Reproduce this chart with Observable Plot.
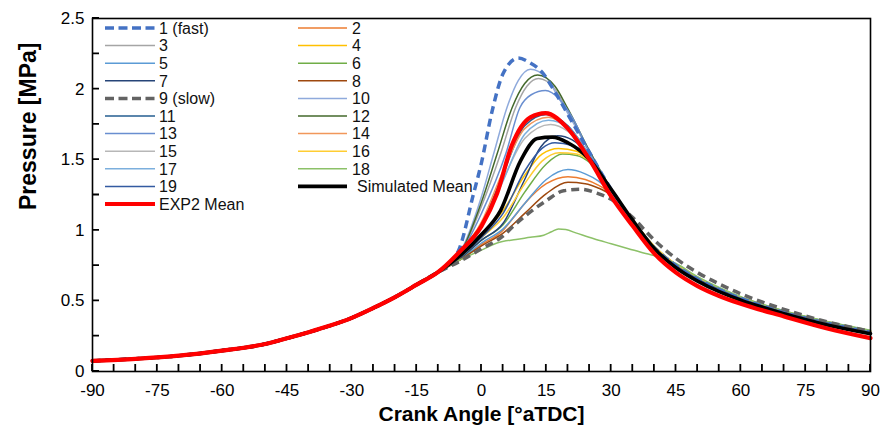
<!DOCTYPE html>
<html><head><meta charset="utf-8">
<script src="https://cdn.jsdelivr.net/npm/d3@7"></script>
<script src="https://cdn.jsdelivr.net/npm/@observablehq/plot@0.6"></script>
<style>
body{margin:0;background:#fff;}
#wrap{position:relative;width:884px;height:435px;font-family:"Liberation Sans",Arial,sans-serif;}
#wrap svg.legend{position:absolute;left:0;top:0;pointer-events:none;}
</style></head><body><div id="wrap"></div>
<script>
const compression = [[-90,0.075],[-80,0.09],[-70,0.112],[-60,0.148],[-50,0.195],[-45,0.235],[-40,0.278],[-35,0.325],[-30,0.38],[-25,0.45],[-20,0.527],[-15,0.615],[-10,0.705]];
const s1  = [[-7,0.77],[-5,0.88],[-2,1.24],[0,1.48],[2.5,1.85],[5,2.11],[8.5,2.22],[11,2.19],[14,2.12],[17,1.98],[20,1.82],[25,1.55],[30,1.29],[35,1.065],[40,0.875],[45,0.75],[50,0.655],[55,0.58],[60,0.518],[70,0.418],[80,0.342],[90,0.278]];
const s2  = [[-5,0.79],[0,0.90],[5,1.00],[7.4,1.09],[10,1.19],[15,1.33],[20,1.38],[24,1.36],[27,1.32],[30,1.26],[35,1.07],[40,0.885],[45,0.755],[50,0.662],[55,0.588],[60,0.525],[70,0.425],[80,0.348],[90,0.283]];
const s3  = [[-5,0.83],[0,1.17],[4.4,1.54],[7.9,1.87],[10.5,2.02],[13.2,2.075],[17,2.00],[20,1.84],[25,1.55],[30,1.285],[35,1.062],[40,0.872],[45,0.748],[50,0.652],[55,0.578],[60,0.515],[70,0.416],[80,0.34],[90,0.276]];
const s4  = [[-5,0.82],[0,0.97],[5,1.14],[10,1.39],[14,1.54],[17.8,1.58],[22,1.56],[25,1.50],[30,1.28],[35,1.07],[40,0.882],[45,0.755],[50,0.66],[55,0.585],[60,0.522],[70,0.422],[80,0.346],[90,0.282]];
const s5  = [[-5,0.79],[0,0.91],[5,1.01],[10,1.19],[15,1.36],[20,1.43],[24,1.40],[27,1.35],[30,1.27],[35,1.065],[40,0.876],[45,0.748],[50,0.654],[55,0.58],[60,0.517],[70,0.418],[80,0.342],[90,0.278]];
const s6  = [[-5,0.80],[0,0.93],[5,1.04],[10,1.27],[15,1.47],[18.7,1.54],[22,1.53],[25,1.48],[30,1.28],[35,1.072],[40,0.886],[45,0.758],[50,0.664],[55,0.59],[60,0.527],[70,0.428],[80,0.352],[90,0.288]];
const s7  = [[-5,0.80],[0,0.93],[5,1.05],[10,1.36],[13.7,1.59],[17.6,1.67],[21,1.64],[25,1.53],[30,1.29],[35,1.066],[40,0.876],[45,0.75],[50,0.655],[55,0.58],[60,0.517],[70,0.418],[80,0.342],[90,0.277]];
const s8  = [[-5,0.79],[0,0.89],[5,0.98],[10,1.12],[15,1.26],[20,1.34],[24,1.33],[27,1.30],[30,1.25],[35,1.068],[40,0.882],[45,0.754],[50,0.66],[55,0.585],[60,0.522],[70,0.423],[80,0.346],[90,0.281]];
const s9  = [[-5,0.78],[0,0.87],[5,0.96],[7.4,1.03],[11.3,1.13],[15,1.21],[19,1.28],[23,1.29],[27,1.26],[30,1.22],[35,1.09],[40,0.93],[45,0.80],[50,0.70],[55,0.62],[60,0.55],[70,0.44],[80,0.352],[90,0.284]];
const s10 = [[-5,0.84],[0,1.24],[2.8,1.54],[5.9,1.87],[8.5,2.06],[11.3,2.14],[15,2.08],[18,1.93],[22,1.72],[25,1.56],[30,1.29],[35,1.066],[40,0.875],[45,0.75],[50,0.655],[55,0.58],[60,0.517],[70,0.418],[80,0.341],[90,0.277]];
const s11 = [[-5,0.84],[0,1.04],[5,1.40],[10,1.74],[15,1.82],[20,1.74],[25,1.53],[30,1.27],[35,1.06],[40,0.87],[45,0.745],[50,0.65],[55,0.576],[60,0.513],[70,0.414],[80,0.338],[90,0.274]];
const s12 = [[-5,0.83],[0,1.20],[3.6,1.54],[7.1,1.87],[10,2.04],[13,2.10],[17,2.02],[20,1.86],[25,1.56],[30,1.29],[35,1.068],[40,0.878],[45,0.752],[50,0.657],[55,0.582],[60,0.519],[70,0.42],[80,0.344],[90,0.279]];
const s13 = [[-5,0.83],[0,1.12],[5.6,1.54],[8.9,1.87],[11.5,1.96],[14.8,1.99],[18,1.93],[21,1.80],[25,1.55],[30,1.285],[35,1.064],[40,0.874],[45,0.749],[50,0.654],[55,0.579],[60,0.516],[70,0.417],[80,0.341],[90,0.277]];
const s14 = [[-5,0.84],[0,1.06],[5,1.42],[10,1.72],[15.5,1.80],[20,1.72],[25,1.52],[30,1.27],[35,1.068],[40,0.884],[45,0.757],[50,0.663],[55,0.588],[60,0.525],[70,0.426],[80,0.35],[90,0.286]];
const s15 = [[-5,0.83],[0,1.03],[5,1.36],[10,1.65],[16,1.75],[20,1.70],[25,1.52],[30,1.27],[35,1.064],[40,0.876],[45,0.75],[50,0.656],[55,0.582],[60,0.52],[70,0.421],[80,0.345],[90,0.28]];
const s16 = [[-5,0.81],[0,0.95],[5,1.09],[10,1.33],[14,1.49],[18,1.55],[22,1.54],[25,1.49],[30,1.28],[35,1.072],[40,0.886],[45,0.758],[50,0.664],[55,0.589],[60,0.526],[70,0.427],[80,0.35],[90,0.285]];
const s17 = [[-5,0.83],[0,1.02],[5,1.35],[10,1.68],[15.5,1.78],[20,1.73],[25,1.53],[30,1.275],[35,1.062],[40,0.873],[45,0.748],[50,0.654],[55,0.58],[60,0.517],[70,0.418],[80,0.343],[90,0.279]];
const s18 = [[-5,0.79],[0,0.86],[3.6,0.91],[8,0.935],[11.3,0.95],[14.4,0.965],[16.2,0.99],[17.8,1.01],[19.5,1.005],[22,0.98],[26,0.94],[30,0.905],[34,0.87],[38,0.835],[41.4,0.81],[45,0.765],[50,0.672],[55,0.595],[60,0.53],[70,0.43],[80,0.354],[90,0.292]];
const s19 = [[-5,0.81],[0,0.95],[5,1.12],[10,1.42],[14,1.58],[17,1.62],[21,1.60],[25,1.52],[30,1.28],[35,1.066],[40,0.877],[45,0.75],[50,0.656],[55,0.581],[60,0.518],[70,0.419],[80,0.343],[90,0.278]];
const simMean  = [[-5,0.82],[0,0.97],[4.4,1.14],[9,1.49],[12.9,1.65],[16.4,1.66],[20,1.62],[25,1.50],[30,1.29],[35,1.07],[40,0.87],[45,0.735],[50,0.64],[55,0.565],[60,0.505],[70,0.41],[80,0.33],[90,0.268]];
const exp2Mean = [[-5,0.85],[0,1.03],[3.6,1.26],[7,1.60],[11.3,1.80],[14.8,1.83],[20,1.72],[25,1.50],[30,1.24],[35,1.03],[40,0.835],[45,0.70],[50,0.605],[55,0.535],[60,0.48],[70,0.39],[80,0.305],[90,0.236]];

const seriesNames  = ["1 (fast)","2","3","4","5","6","7","8","9 (slow)","10","11","12","13","14","15","16","17","18","19","Simulated Mean","EXP2 Mean"];
const seriesColors = ["#4472C4","#ED7D31","#A5A5A5","#FFC000","#5B9BD5","#70AD47","#264478","#9E480E","#636363","#8FAADC","#255E91","#43682B","#698ED0","#F1975A","#B7B7B7","#FFCD33","#7CAFDD","#8CC168","#335AA1","#000000","#FF0000"];
const seriesData   = [s1,s2,s3,s4,s5,s6,s7,s8,s9,s10,s11,s12,s13,s14,s15,s16,s17,s18,s19,simMean,exp2Mean];

const xTickLabels = [-90,-75,-60,-45,-30,-15,0,15,30,45,60,75,90];
const xMinorTicks = [-90,-85,-80,-75,-70,-65,-60,-55,-50,-45,-40,-35,-30,-25,-20,-15,-10,-5,0,5,10,15,20,25,30,35,40,45,50,55,60,65,70,75,80,85,90];
const yTickLabels = [0,0.5,1,1.5,2,2.5];
const yMinorTicks = [0,0.25,0.5,0.75,1,1.25,1.5,1.75,2,2.25,2.5];

function styleOf(i){
  const name = seriesNames[i];
  if (name === "1 (fast)" || name === "9 (slow)") return {w:3.5, dash:"8,5"};
  if (name === "EXP2 Mean") return {w:4.2, dash:null};
  if (name === "Simulated Mean") return {w:3.6, dash:null};
  return {w:1.5, dash:null};
}
const rowsOf = i => compression.concat(seriesData[i]).map(([a,p]) => ({angle:a, p}));
const order = d3.range(seriesNames.length).sort((a,b) => {
  const rank = i => seriesNames[i]==="EXP2 Mean"?3:seriesNames[i]==="Simulated Mean"?2:styleOf(i).dash?1:0;
  return rank(a)-rank(b);
});

const FONT = '"Liberation Sans", Arial, sans-serif';
const lineMarks = order.map(i => {
  const st = styleOf(i);
  return Plot.line(rowsOf(i), {x:"angle", y:"p", stroke: seriesColors[i], strokeWidth: st.w,
    strokeDasharray: st.dash, curve:"monotone-x", strokeLinecap: st.dash ? "butt" : "round"});
});

const W = 884, H = 435, ML = 92, MR = 14, MT = 18, MB = 64;
const xDom = [-90, 90], yDom = [0, 2.5];
const TICK = 7;

const chart = Plot.plot({
  width: W, height: H,
  marginLeft: ML, marginRight: MR, marginTop: MT, marginBottom: MB,
  style: {fontFamily: FONT, color:"#000", background:"#fff", overflow:"visible"},
  x: {domain: xDom},
  y: {domain: yDom},
  marks: [
    ...lineMarks,
    Plot.axisX({ticks: xTickLabels, tickSize:0, tickPadding:12, fontSize:17, tickFormat: d => String(d), label:null}),
    Plot.axisY({ticks: yTickLabels, tickSize:0, tickPadding:8, fontSize:17, tickFormat: d => String(d), label:null}),
    Plot.frame({stroke:"#000", strokeWidth:1.6}),
    Plot.text(["Crank Angle [°aTDC]"], {text: d => d, frameAnchor:"bottom", dy:49, fontWeight:"bold", fontSize:21}),
    Plot.text(["Pressure [MPa]"], {text: d => d, frameAnchor:"left", dx:-64, dy:15, rotate:-90, fontWeight:"bold", fontSize:23})
  ]
});

const wrap = document.getElementById("wrap");
wrap.appendChild(chart);

const sx = chart.scale("x"), sy = chart.scale("y");
const X = v => sx.apply(v), Y = v => sy.apply(v);
const ov = d3.select(wrap).append("svg").attr("class","legend")
  .attr("width",W).attr("height",H);

// inward ticks as one path each axis, positioned with Plot's scales
const y0 = Y(yDom[0]), x0 = X(xDom[0]);
const xPath = xMinorTicks.map(d => `M${X(d)},${y0}V${y0 - TICK}`).join("");
const yPath = yMinorTicks.map(d => `M${x0},${Y(d)}H${x0 + TICK}`).join("");
ov.append("path").attr("d", xPath).attr("fill","none").attr("stroke","#000").attr("stroke-width",1.8);
ov.append("path").attr("d", yPath).attr("fill","none").attr("stroke","#000").attr("stroke-width",1.8);

const legX = [[105,155,159],[298,347,352]];
seriesNames.forEach((name,i) => {
  const col = i % 2, row = Math.floor(i/2);
  const y = 28 + row*17.6;
  const st = styleOf(i);
  ov.append("line").attr("x1",legX[col][0]).attr("x2",legX[col][1]).attr("y1",y).attr("y2",y)
    .attr("stroke",seriesColors[i]).attr("stroke-width",st.w)
    .attr("stroke-dasharray",st.dash ? "9,4.5" : null);
  ov.append("text").attr("x",legX[col][2] + (name==="Simulated Mean"?5:0)).attr("y",y).attr("dy","0.36em")
    .attr("font-family",FONT).attr("font-size",16).attr("fill","#111").text(name);
});
</script></body></html>
